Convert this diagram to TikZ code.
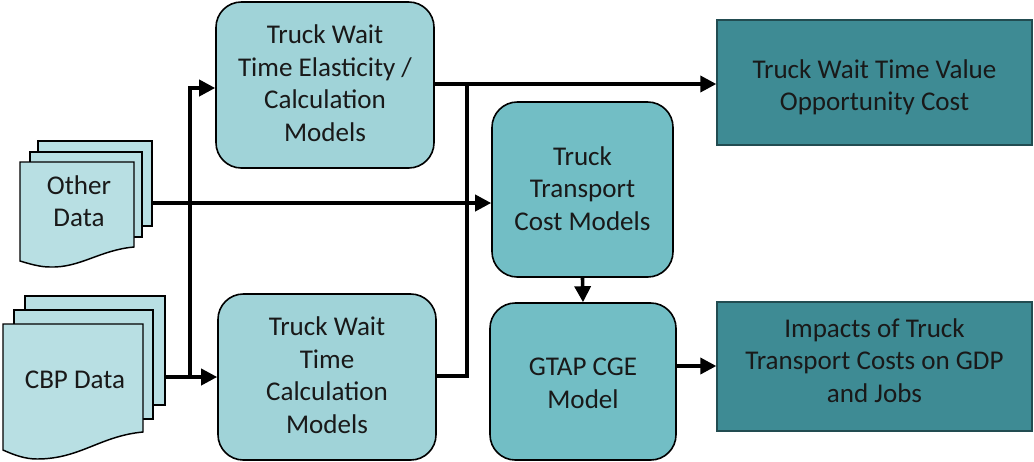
\documentclass[tikz,border=0pt]{standalone}
\usepackage{fontspec}
\setmainfont{Carlito}
\usetikzlibrary{arrows.meta}
\definecolor{boxlight}{HTML}{A0D3D8}
\definecolor{boxmid}{HTML}{72BEC5}
\definecolor{boxdark}{HTML}{3E8B94}
\definecolor{sheet}{HTML}{B8DFE3}
\tikzset{
  px/.style={x=0.75pt,y=-0.75pt},
  label font/.style={font=\fontsize{20.3}{24.4}\selectfont,text=black!90},
  modelbox/.style={draw=black,line width=1.2pt,rounded corners=19pt,inner sep=0pt,label font},
  resultbox/.style={draw=black!45!boxdark,line width=1pt,fill=boxdark,inner sep=0pt,label font},
  sheetbox/.style={draw=black,line width=1.1pt,fill=sheet,inner sep=0pt},
  doctext/.style={inner sep=0pt,label font,align=center},
  link/.style={line width=2.7pt,black},
  arrowlink/.style={link,-{Triangle[length=12pt,width=12pt]}},
}
\newcommand{\boxat}[7]{% style,name,x1,y1,x2,y2,text
  \node[#1,minimum width=\dimexpr 0.75pt*\numexpr #5-#3\relax\relax,minimum height=\dimexpr 0.75pt*\numexpr #6-#4\relax\relax,anchor=center] (#2) at ({(#3+#5)/2},{(#4+#6)/2}) {#7};}
\newcommand{\lift}[2]{\raisebox{#1}[\height][\depth]{\begin{tabular}{@{}c@{}}#2\end{tabular}}}
\begin{document}
\begin{tikzpicture}[px]
\useasboundingbox (0,0) rectangle (1034,461);
% document stacks
\boxat{sheetbox}{otherback}{38}{141}{152}{226}{}
\boxat{sheetbox}{othermid}{30}{152}{142}{237}{}
\draw[sheetbox] (20,162) -- (134,162) -- (134,247)
  .. controls (100,250) and (80,268) .. (50,267) .. controls (40,267) and (30,264) .. (20,261) -- cycle;
\node[doctext] (othertext) at (79,201) {Other\\Data};
\boxat{sheetbox}{cbpback}{25}{296}{165}{405}{}
\boxat{sheetbox}{cbpmid}{14}{310}{153}{419}{}
\draw[sheetbox] (3,324) -- (143,324) -- (143,432)
  .. controls (100,436) and (80,459) .. (37,459) .. controls (25,459) and (14,455) .. (3,450) -- cycle;
\node[doctext] (cbptext) at (75,380) {CBP Data};
% models
\boxat{modelbox,fill=boxlight}{elastic}{216}{2}{434}{168}{\lift{-0.75pt}{Truck Wait\\Time Elasticity /\\Calculation\\Models}}
\boxat{modelbox,fill=boxlight}{waitcalc}{218}{294}{436}{460}{\lift{-0.75pt}{Truck Wait\\Time\\Calculation\\Models}}
\boxat{modelbox,fill=boxmid}{transport}{492}{102}{673}{277}{\lift{-1.4pt}{Truck\\Transport\\Cost Models}}
\boxat{modelbox,fill=boxmid}{gtap}{490}{303}{676}{460}{\lift{-3pt}{GTAP CGE\\Model}}
% results
\boxat{resultbox}{value}{717}{20}{1032}{145}{\lift{-4pt}{Truck Wait Time Value\\Opportunity Cost}}
\boxat{resultbox}{impacts}{717}{302}{1032}{431}{\lift{2.6pt}{Impacts of Truck\\Transport Costs on GDP\\and Jobs}}
% connector anchors
\coordinate (otherout) at (152,203);
\coordinate (cbpout) at (165,377);
\coordinate (leftbus) at (190,377);
\coordinate (upperin) at (190,88);
\coordinate (upperout) at (434,84);
\coordinate (lowerout) at (436,376);
\coordinate (rightbus) at (467,376);
\coordinate (rightjoin) at (467,84);
\coordinate (gtapout) at (676,366);
% connectors
\draw[arrowlink] (otherout) -- (transport.west |- otherout);
\draw[arrowlink] (cbpout) -- (waitcalc.west |- cbpout);
\draw[arrowlink] (leftbus) -- (upperin) -- (elastic.west |- upperin);
\draw[arrowlink] (upperout) -- (value.west |- upperout);
\draw[link] (lowerout) -- (rightbus) -- (rightjoin);
\draw[arrowlink] (transport.south) -- (gtap.north);
\draw[arrowlink] (gtapout) -- (impacts.west |- gtapout);
\end{tikzpicture}
\end{document}
